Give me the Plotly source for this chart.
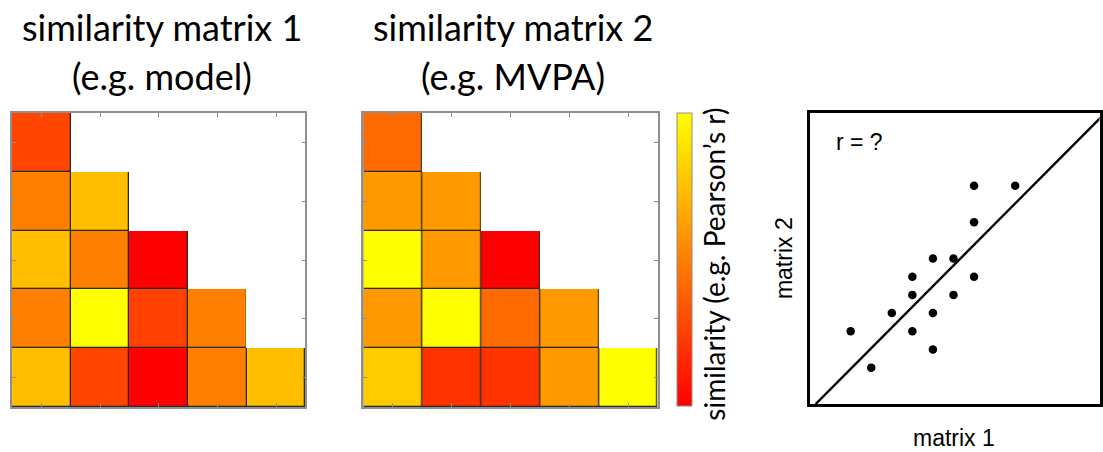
import plotly.graph_objects as go

# ---------------- data ----------------
matrix1 = [
    [0.27, None, None, None, None],
    [0.50, 0.75, None, None, None],
    [0.75, 0.50, 0.00, None, None],
    [0.50, 1.00, 0.25, 0.50, None],
    [0.75, 0.27, 0.00, 0.50, 0.75],
]
matrix2 = [
    [0.42, None, None, None, None],
    [0.60, 0.60, None, None, None],
    [1.00, 0.60, 0.00, None, None],
    [0.60, 1.00, 0.42, 0.60, None],
    [0.80, 0.20, 0.20, 0.60, 1.00],
]
cell_idx = [0, 1, 2, 3, 4]

scatter_x = [10, 8, 8, 6, 7, 5, 8, 5, 7, 4, 6, 2, 5, 6, 3]
scatter_y = [12, 12, 10, 8, 8, 7, 7, 6, 6, 5, 5, 4, 4, 3, 2]
fit_x = [0.3, 14.2]
fit_y = [0.0, 15.8]

title1 = ["similarity matrix 1", "(e.g. model)"]
title2 = ["similarity matrix 2", "(e.g. MVPA)"]
cbar_title = "similarity (e.g. Pearson\u2019s r)"
r_text = "r = ?"
xlab = "matrix 1"
ylab = "matrix 2"

W, H = 1103, 452
def px(x):
    return x / W
def py(y):
    return 1 - y / H

autumn = [[0, "#FF0000"], [1, "#FFFF00"]]
frame_col = "#8f8f8f"

fig = go.Figure()

def add_matrix(z, xa, ya):
    mask = [[1 if v is not None else None for v in row] for row in z]
    fig.add_trace(go.Heatmap(z=mask, x=cell_idx, y=cell_idx, colorscale=[[0, "#2a2a2a"], [1, "#2a2a2a"]],
                             showscale=False, hoverinfo="skip", xaxis=xa, yaxis=ya))
    fig.add_trace(go.Heatmap(z=z, x=cell_idx, y=cell_idx, coloraxis="coloraxis", xgap=1.3, ygap=1.3,
                             hoverinfo="skip", xaxis=xa, yaxis=ya))

add_matrix(matrix1, "x", "y")
add_matrix(matrix2, "x2", "y2")

fig.add_trace(go.Scatter(x=fit_x, y=fit_y, mode="lines", line=dict(color="black", width=2.4),
                         xaxis="x3", yaxis="y3", hoverinfo="skip", cliponaxis=True))
fig.add_trace(go.Scatter(x=scatter_x, y=scatter_y, mode="markers",
                         marker=dict(color="black", size=8.5), xaxis="x3", yaxis="y3", hoverinfo="skip"))

mat_ax = dict(range=[-0.5, 4.5], showgrid=False, zeroline=False, showline=True, mirror="allticks",
              linecolor=frame_col, linewidth=1.5, ticks="inside", ticklen=4, tickcolor=frame_col,
              tickwidth=1, tickvals=cell_idx, showticklabels=False, fixedrange=True)
mat_ay = dict(mat_ax, range=[4.5, -0.5])

fig.update_layout(
    width=W, height=H, margin=dict(l=0, r=0, t=0, b=0),
    paper_bgcolor="white", plot_bgcolor="white", showlegend=False,
    xaxis=dict(mat_ax, domain=[px(12), px(306)], anchor="y"),
    yaxis=dict(mat_ay, domain=[py(407), py(113)], anchor="x"),
    xaxis2=dict(mat_ax, domain=[px(364), px(659)], anchor="y2"),
    yaxis2=dict(mat_ay, domain=[py(407), py(113)], anchor="x2"),
    xaxis3=dict(domain=[px(811), px(1101.5)], anchor="y3", range=[0, 14.1], showgrid=False,
                zeroline=False, showline=True, mirror=True, linecolor="black", linewidth=3,
                ticks="", showticklabels=False),
    yaxis3=dict(domain=[py(404), py(113)], anchor="x3", range=[0, 16], showgrid=False,
                zeroline=False, showline=True, mirror=True, linecolor="black", linewidth=3,
                ticks="", showticklabels=False),
    coloraxis=dict(cmin=0, cmax=1, colorscale=autumn,
                   colorbar=dict(x=px(678), xanchor="left", xpad=0, thickness=15,
                                 lenmode="fraction", len=(406 - 113) / H, y=py(113), yanchor="top",
                                 ypad=0, outlinecolor=frame_col, outlinewidth=1,
                                 ticks="", showticklabels=False)),
)

tfont = dict(family="Lato", size=36, color="black")
anns = []
for cx, lines in [(162, title1), (514, title2)]:
    anns.append(dict(x=px(cx), y=py(27), text=lines[0], showarrow=False, xref="paper", yref="paper",
                     xanchor="center", yanchor="middle", font=tfont))
    anns.append(dict(x=px(cx), y=py(76), text=lines[1], showarrow=False, xref="paper", yref="paper",
                     xanchor="center", yanchor="middle", font=tfont))
anns.append(dict(x=px(715), y=py(264), text=cbar_title, textangle=-90, showarrow=False, xref="paper",
                 yref="paper", xanchor="center", yanchor="middle",
                 font=dict(family="Lato", size=28, color="black")))
afont = dict(family="Liberation Sans, Arial", size=23, color="black")
anns.append(dict(x=px(836), y=py(142), text=r_text, showarrow=False, xref="paper", yref="paper",
                 xanchor="left", yanchor="middle", font=afont))
anns.append(dict(x=px(956), y=py(438), text=xlab, showarrow=False, xref="paper", yref="paper",
                 xanchor="center", yanchor="middle", font=afont))
anns.append(dict(x=px(785), y=py(258.5), text=ylab, textangle=-90, showarrow=False, xref="paper",
                 yref="paper", xanchor="center", yanchor="middle", font=afont))
fig.update_layout(annotations=anns)

fig.write_html("out.html")
